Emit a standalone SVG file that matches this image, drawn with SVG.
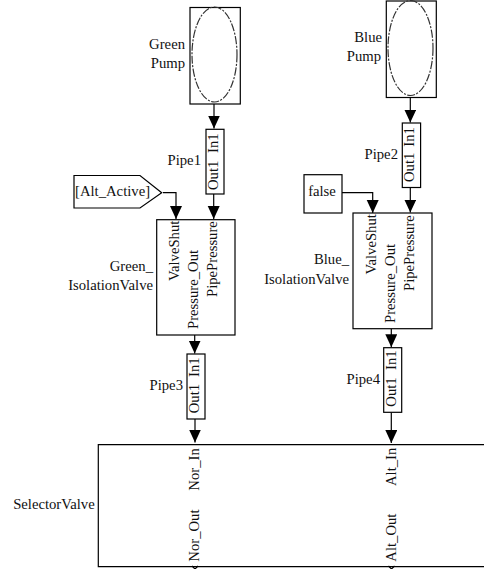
<svg xmlns="http://www.w3.org/2000/svg" width="484" height="569" viewBox="0 0 484 569">
<style>
.b{fill:#fff;stroke:#000;stroke-width:1.2}
.e{fill:none;stroke:#333;stroke-width:1.2;stroke-dasharray:8 1.5 2 1.5}
.w{fill:none;stroke:#000;stroke-width:1.2}
text{font-family:"Liberation Serif","Times New Roman",serif;font-size:14.7px;fill:#111}
.r{text-anchor:end}
.m{text-anchor:middle}
</style>
<defs>
<marker id="a" markerUnits="userSpaceOnUse" markerWidth="13" markerHeight="13" refX="13" refY="6" orient="auto"><path d="M0 0L13 6L0 12Z" fill="#000"/></marker>
</defs>
<g id="connectors">
<path class="w" d="M214 104V128.500" marker-end="url(#a)"/>
<path class="w" d="M410.300 97V122.500" marker-end="url(#a)"/>
<path class="w" d="M163 192.700H176V219" marker-end="url(#a)"/>
<path class="w" d="M213.700 194V219" marker-end="url(#a)"/>
<path class="w" d="M342 192.700H372.700V213" marker-end="url(#a)"/>
<path class="w" d="M410.300 187.500V212.500" marker-end="url(#a)"/>
<path class="w" d="M194.700 335V353.500" marker-end="url(#a)"/>
<path class="w" d="M391.300 328.700V347.200" marker-end="url(#a)"/>
<path class="w" d="M195 419V442.500" marker-end="url(#a)"/>
<path class="w" d="M391.300 412.300V443" marker-end="url(#a)"/>
</g>
<g id="GreenPump">
<rect class="b" x="190" y="7.500" width="50.300" height="96.500"/>
<ellipse class="e" cx="214.500" cy="54.500" rx="22.500" ry="47.500"/>
<text class="r" x="185" y="49">Green</text>
<text class="r" x="185" y="68">Pump</text>
</g>
<g id="BluePump">
<rect class="b" x="386.300" y="1" width="50" height="96.500"/>
<ellipse class="e" cx="410.500" cy="48" rx="22.500" ry="47.500"/>
<text class="r" x="382" y="42">Blue</text>
<text class="r" x="381" y="61">Pump</text>
</g>
<g id="Pipe1">
<rect class="b" x="206" y="129.300" width="18" height="64.700"/>
<text transform="translate(217.500 190) rotate(-90)">Out1</text>
<text transform="translate(217.500 153) rotate(-90)">In1</text>
<text class="r" x="201" y="165">Pipe1</text>
</g>
<g id="Pipe2">
<rect class="b" x="402.300" y="123" width="18.300" height="64.500"/>
<text transform="translate(414 182) rotate(-90)">Out1</text>
<text transform="translate(414 146.700) rotate(-90)">In1</text>
<text class="r" x="398" y="158.500">Pipe2</text>
</g>
<g id="AltActive">
<path class="b" d="M74 175.500H140L161.700 192.700L140 208H74Z"/>
<text x="75" y="196">[Alt_Active]</text>
</g>
<g id="False">
<rect class="b" x="304" y="174.700" width="38" height="38.300"/>
<text class="m" x="322" y="196">false</text>
</g>
<g id="GreenIsolationValve">
<rect class="b" x="156.700" y="219.700" width="78.300" height="115.300"/>
<text transform="translate(179.300 281) rotate(-90)">ValveShut</text>
<text transform="translate(198.300 329) rotate(-90)">Pressure_Out</text>
<text transform="translate(217.300 297) rotate(-90)">PipePressure</text>
<text class="r" x="153" y="271">Green_</text>
<text class="r" x="153" y="290">IsolationValve</text>
</g>
<g id="BlueIsolationValve">
<rect class="b" x="353" y="213" width="79" height="115.700"/>
<text transform="translate(376 274.500) rotate(-90)">ValveShut</text>
<text transform="translate(395 323) rotate(-90)">Pressure_Out</text>
<text transform="translate(414 291) rotate(-90)">PipePressure</text>
<text class="r" x="349" y="264.300">Blue_</text>
<text class="r" x="349" y="284">IsolationValve</text>
</g>
<g id="Pipe3">
<rect class="b" x="187" y="354" width="18" height="65"/>
<text transform="translate(199 413.300) rotate(-90)">Out1</text>
<text transform="translate(199 377) rotate(-90)">In1</text>
<text class="r" x="183" y="390">Pipe3</text>
</g>
<g id="Pipe4">
<rect class="b" x="383.700" y="347.700" width="18" height="64.600"/>
<text transform="translate(396.300 406.700) rotate(-90)">Out1</text>
<text transform="translate(396.300 370) rotate(-90)">In1</text>
<text class="r" x="380" y="384">Pipe4</text>
</g>
<g id="SelectorValve">
<path class="w" d="M484 444.700H98.300V566.700H484"/>
<text transform="translate(199.300 490.700) rotate(-90)">Nor_In</text>
<text transform="translate(199.300 561.700) rotate(-90)">Nor_Out</text>
<text transform="translate(395.700 486) rotate(-90)">Alt_In</text>
<text transform="translate(395.700 561.700) rotate(-90)">Alt_Out</text>
<text class="r" x="94.700" y="509">SelectorValve</text>
<path class="w" d="M192 566L195 569L198 566M388.500 566L391.500 569L394.500 566"/>
</g>
</svg>
